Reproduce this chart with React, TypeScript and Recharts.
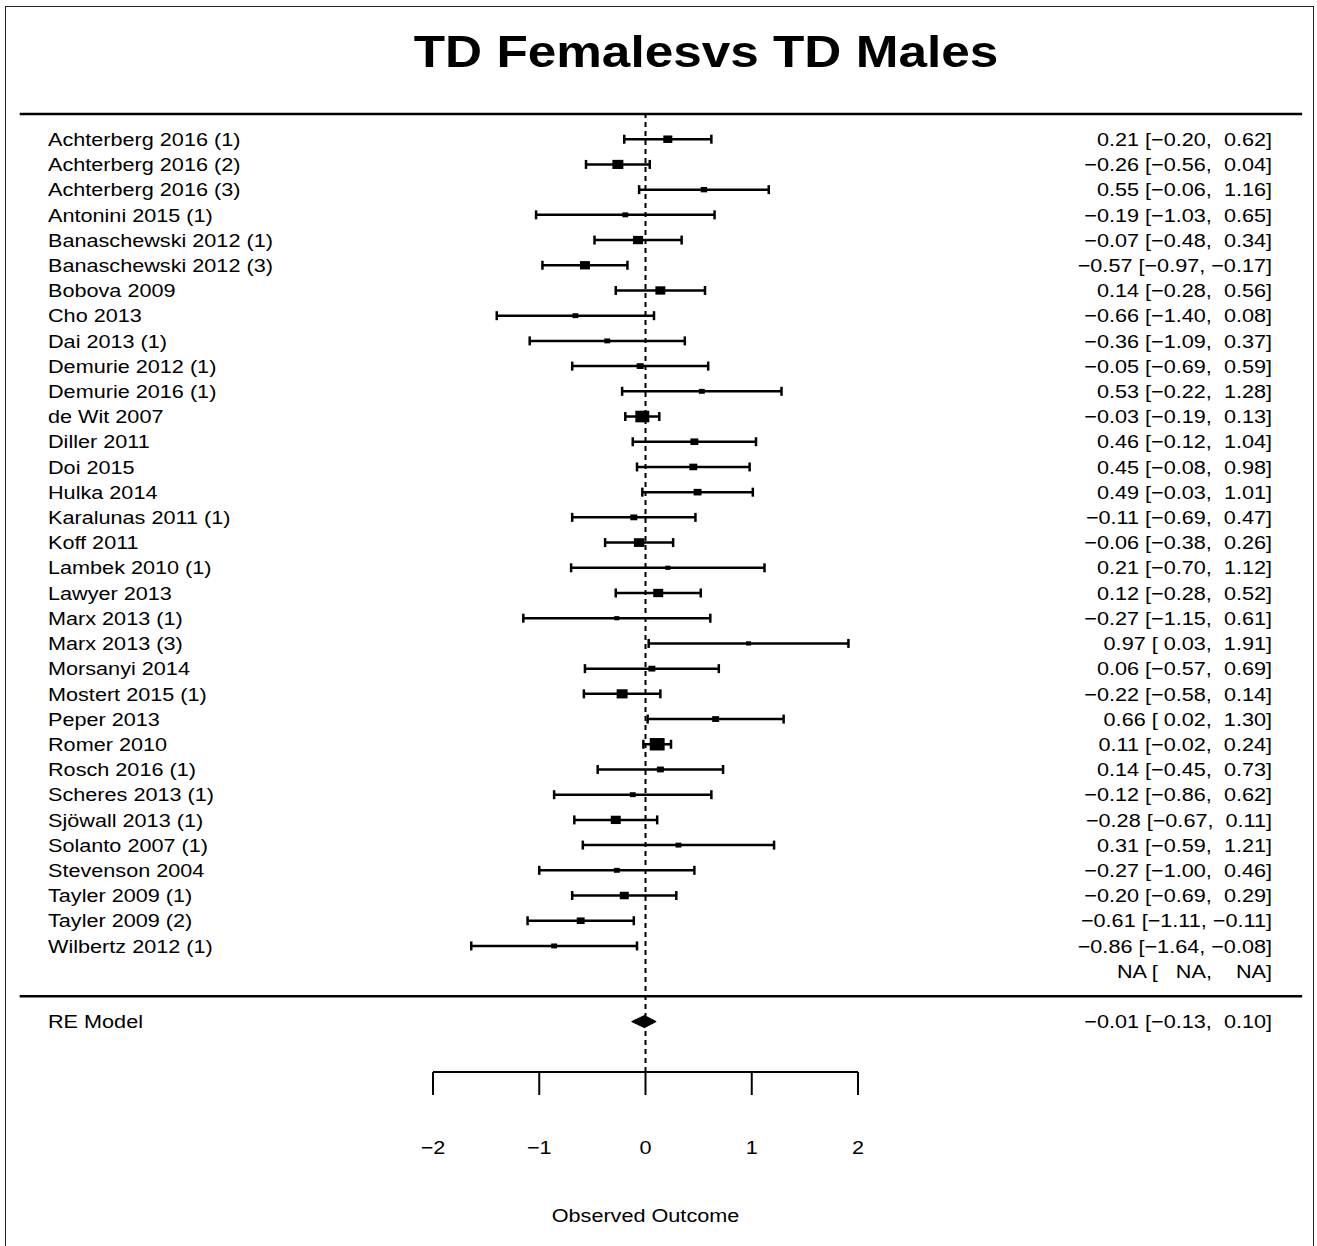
import React from 'react';
import { ScatterChart, Scatter, XAxis, YAxis, ZAxis, ErrorBar, ReferenceLine, Label } from 'recharts';

// study labels, top to bottom (last row has no label, only NA values)
const studies = [
  'Achterberg 2016 (1)', 'Achterberg 2016 (2)', 'Achterberg 2016 (3)', 'Antonini 2015 (1)',
  'Banaschewski 2012 (1)', 'Banaschewski 2012 (3)', 'Bobova 2009', 'Cho 2013', 'Dai 2013 (1)',
  'Demurie 2012 (1)', 'Demurie 2016 (1)', 'de Wit 2007', 'Diller 2011', 'Doi 2015', 'Hulka 2014',
  'Karalunas 2011 (1)', 'Koff 2011', 'Lambek 2010 (1)', 'Lawyer 2013', 'Marx 2013 (1)', 'Marx 2013 (3)',
  'Morsanyi 2014', 'Mostert 2015 (1)', 'Peper 2013', 'Romer 2010', 'Rosch 2016 (1)', 'Scheres 2013 (1)',
  'Sjöwall 2013 (1)', 'Solanto 2007 (1)', 'Stevenson 2004', 'Tayler 2009 (1)', 'Tayler 2009 (2)',
  'Wilbertz 2012 (1)', '',
];

const estimates = [
  0.21, -0.26, 0.55, -0.19, -0.07, -0.57, 0.14, -0.66, -0.36, -0.05, 0.53, -0.03, 0.46, 0.45, 0.49,
  -0.11, -0.06, 0.21, 0.12, -0.27, 0.97, 0.06, -0.22, 0.66, 0.11, 0.14, -0.12, -0.28, 0.31, -0.27,
  -0.2, -0.61, -0.86, null,
];

const lower = [
  -0.2, -0.56, -0.06, -1.03, -0.48, -0.97, -0.28, -1.4, -1.09, -0.69, -0.22, -0.19, -0.12, -0.08, -0.03,
  -0.69, -0.38, -0.7, -0.28, -1.15, 0.03, -0.57, -0.58, 0.02, -0.02, -0.45, -0.86, -0.67, -0.59, -1.0,
  -0.69, -1.11, -1.64, null,
];

const upper = [
  0.62, 0.04, 1.16, 0.65, 0.34, -0.17, 0.56, 0.08, 0.37, 0.59, 1.28, 0.13, 1.04, 0.98, 1.01,
  0.47, 0.26, 1.12, 0.52, 0.61, 1.91, 0.69, 0.14, 1.3, 0.24, 0.73, 0.62, 0.11, 1.21, 0.46,
  0.29, -0.11, -0.08, null,
];

// relative study weights (%)
const weights = [
  3.5, 5.2, 1.8, 1.5, 4.3, 4.3, 4.3, 1.5, 1.5, 2.1, 1.5, 8.4, 2.7, 2.7, 2.7,
  2.1, 4.7, 1.1, 4.3, 1.1, 1.1, 2.1, 5.2, 2.1, 9.6, 2.1, 1.5, 4.3, 1.5, 1.5,
  3.5, 2.7, 1.5, null,
];

const reModel = { label: 'RE Model', est: -0.01, lo: -0.13, hi: 0.1 };
const xTicks = [-2, -1, 0, 1, 2];

const FONT = '"Liberation Sans", Arial, Helvetica, sans-serif';
const STRETCH = 1.17; // the original is a bit wide
const FS = 18.5;
const TOP_ROW = studies.length + 1;
const RE_ROW = -1;
const DIAMOND_H = 0.24;

const fmt = (v: number | null) => {
  if (v == null) return '   NA';
  const s = Math.abs(v).toFixed(2);
  return v < 0 ? '\u2212' + s : ' ' + s;
};
const ciText = (e: number | null, l: number | null, u: number | null) =>
  `${fmt(e).trim()} [${fmt(l)}, ${fmt(u)}]`;

const rowOf = (i: number) => studies.length - i;

const points = studies
  .map((name, i) => ({
    name,
    row: rowOf(i),
    est: estimates[i],
    err: estimates[i] == null ? null : [estimates[i]! - lower[i]!, upper[i]! - estimates[i]!],
    w: weights[i],
  }))
  .filter((d) => d.est != null);

const rowInfo = new Map<number, { name: string; ci: string }>();
studies.forEach((name, i) => rowInfo.set(rowOf(i), { name, ci: ciText(estimates[i], lower[i], upper[i]) }));
rowInfo.set(RE_ROW, { name: reModel.label, ci: ciText(reModel.est, reModel.lo, reModel.hi) });
const rowTicks = Array.from(rowInfo.keys());

const diamond = [
  { est: reModel.lo, row: RE_ROW },
  { est: reModel.est, row: RE_ROW + DIAMOND_H },
  { est: reModel.hi, row: RE_ROW },
  { est: reModel.est, row: RE_ROW - DIAMOND_H },
  { est: reModel.lo, row: RE_ROW },
];

const Square = (p: any) => {
  const area = p.size != null ? p.size : p.width * p.width;
  const w = Math.sqrt(area * 1.2);
  const h = Math.sqrt(area / 1.2);
  return <rect x={p.cx - w / 2} y={p.cy - h / 2} width={w} height={h} fill="#000" />;
};

const RowTick = (p: any) => {
  const info = rowInfo.get(p.payload.value);
  if (!info) return <g />;
  return (
    <g fontFamily={FONT} fontSize={FS} fill="#000">
      <text transform={`translate(48 ${p.y}) scale(${STRETCH} 1)`} dy="0.36em">
        {info.name}
      </text>
      <text
        transform={`translate(1272 ${p.y}) scale(${STRETCH} 1)`}
        dy="0.36em"
        textAnchor="end"
        style={{ whiteSpace: 'pre' }}
      >
        {info.ci}
      </text>
    </g>
  );
};

const XTick = (p: any) => {
  const v = p.payload.value;
  return (
    <text
      transform={`translate(${p.x} ${p.y + 57}) scale(${STRETCH} 1)`}
      textAnchor="middle"
      fontFamily={FONT}
      fontSize={FS}
      fill="#000"
    >
      {v < 0 ? '\u2212' + Math.abs(v) : String(v)}
    </text>
  );
};

const AxisTitle = (p: any) => {
  const vb = p.viewBox || { x: 433, y: 1072, width: 425 };
  return (
    <text
      transform={`translate(${vb.x + vb.width / 2} ${vb.y + 150}) scale(${STRETCH} 1)`}
      textAnchor="middle"
      fontFamily={FONT}
      fontSize={FS}
      fill="#000"
    >
      Observed Outcome
    </text>
  );
};

export default function App() {
  return (
    <div style={{ position: 'absolute', left: 0, top: 0, width: 1317, height: 1246, overflow: 'hidden', background: '#fff' }}>
      <style>{'.recharts-errorBar line, .recharts-errorBars line { stroke-width: 2.5px !important; stroke: #000 !important; }'}</style>
      <div
        style={{
          position: 'absolute', left: 5, top: 6, width: 1309, height: 1300,
          border: '1.5px solid #222', boxSizing: 'border-box',
        }}
      />
      <div
        style={{
          position: 'absolute', left: 706, top: 29, whiteSpace: 'nowrap',
          transform: 'translateX(-50%) scaleX(1.14)',
          fontFamily: FONT, fontWeight: 'bold', fontSize: 45, lineHeight: '45px', color: '#000',
        }}
      >
        TD Femalesvs TD Males
      </div>
      <ScatterChart width={1317} height={1246} margin={{ top: 114, right: 459, bottom: 114, left: 0 }}>
        <XAxis
          type="number"
          dataKey="est"
          domain={[-2, 2]}
          ticks={xTicks}
          allowDataOverflow
          height={60}
          tickSize={23}
          tickMargin={2}
          axisLine={{ stroke: '#000', strokeWidth: 2 }}
          tickLine={{ stroke: '#000', strokeWidth: 2 }}
          tick={XTick}
        >
          <Label content={AxisTitle} />
        </XAxis>
        <YAxis
          type="number"
          dataKey="row"
          domain={[-3, TOP_ROW]}
          ticks={rowTicks}
          interval={0}
          width={433}
          axisLine={false}
          tickLine={false}
          tick={RowTick}
          allowDataOverflow
        />
        <ZAxis type="number" dataKey="w" domain={[0, Math.max(...(weights.filter((w) => w != null) as number[]))]} range={[0, 185]} />
        <ReferenceLine
          segment={[{ x: -5.89, y: TOP_ROW }, { x: 6.18, y: TOP_ROW }]}
          stroke="#000"
          strokeWidth={2.5}
          ifOverflow="visible"
        />
        <ReferenceLine
          segment={[{ x: -5.89, y: 0 }, { x: 6.18, y: 0 }]}
          stroke="#000"
          strokeWidth={2.5}
          ifOverflow="visible"
        />
        <ReferenceLine x={0} stroke="#000" strokeWidth={2} strokeDasharray="5 4" />
        <Scatter data={points} shape={Square} isAnimationActive={false}>
          <ErrorBar
            dataKey="err"
            direction="x"
            width={4.5}
            strokeWidth={2.5}
            stroke="#000"
            isAnimationActive={false}
          />
        </Scatter>
        <Scatter
          data={diamond}
          shape={() => <g />}
          line={{ fill: '#000', stroke: '#000', strokeWidth: 1 }}
          lineType="joint"
          lineJointType="linear"
          isAnimationActive={false}
        />
      </ScatterChart>
    </div>
  );
}
